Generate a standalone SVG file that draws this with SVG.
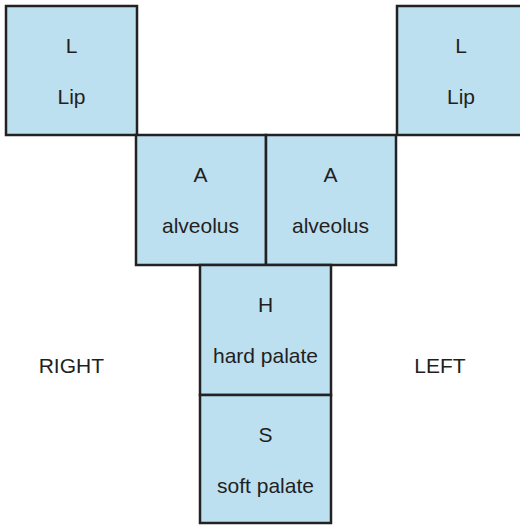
<svg xmlns="http://www.w3.org/2000/svg" width="520" height="525" viewBox="0 0 520 525">
<style>
.box{fill:#bde0f1;stroke:#222;stroke-width:2.5}
text{font-family:"Liberation Sans",Arial,sans-serif;font-size:21px;fill:#231f20;text-anchor:middle}
</style>
<rect width="520" height="525" fill="#fff"/>
<g id="lip-right"><rect class="box" x="6" y="6" width="131" height="129"/><text x="71.5" y="52.5">L</text><text x="71.5" y="104">Lip</text></g>
<g id="lip-left"><rect class="box" x="397" y="6" width="130" height="129"/><text x="461" y="52.5">L</text><text x="461" y="104">Lip</text></g>
<g id="alveolus-right"><rect class="box" x="136" y="135" width="130" height="130"/><text x="200.5" y="182.3">A</text><text x="200.5" y="232.7">alveolus</text></g>
<g id="alveolus-left"><rect class="box" x="266" y="135" width="130" height="130"/><text x="330.5" y="182.3">A</text><text x="330.5" y="232.7">alveolus</text></g>
<g id="hard-palate"><rect class="box" x="200" y="265" width="131" height="130"/><text x="265.5" y="312.3">H</text><text x="265.5" y="362.5">hard palate</text></g>
<g id="soft-palate"><rect class="box" x="200" y="395" width="131" height="128"/><text x="265.5" y="442.3">S</text><text x="265.5" y="492.5">soft palate</text></g>
<g id="labels"><text x="71.3" y="373.3">RIGHT</text><text x="440" y="373.3">LEFT</text></g>
<g id="connectors"></g>
</svg>
